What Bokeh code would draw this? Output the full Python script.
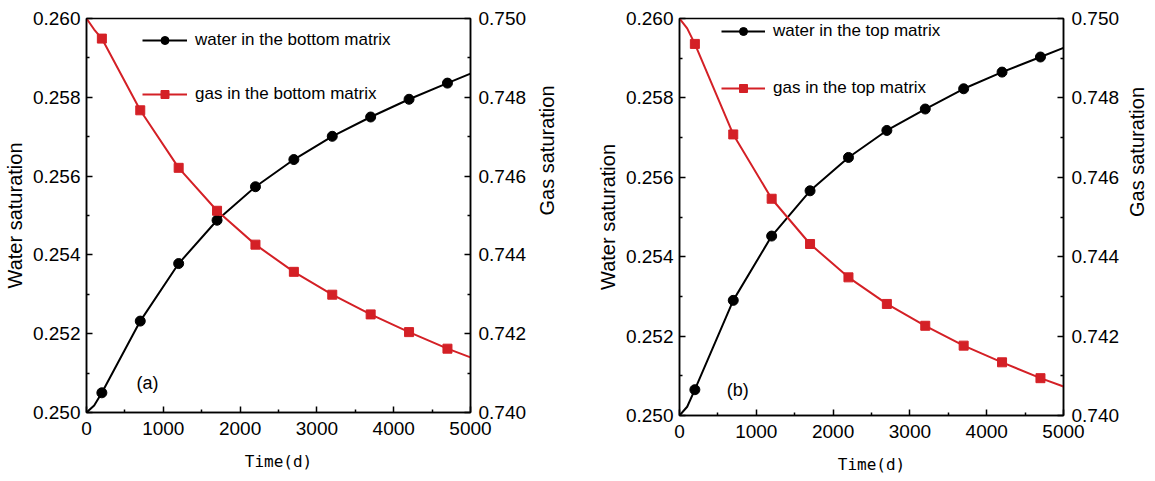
import math
from bokeh.plotting import figure
from bokeh.models import (Range1d, LinearAxis, FixedTicker, NumeralTickFormatter,
                          Legend, LegendItem, Label)
from bokeh.layouts import row
from bokeh.embed import file_html
from bokeh.resources import INLINE

# ---------------- data ----------------
marker_time = [200, 700, 1200, 1700, 2200, 2700, 3200, 3700, 4200, 4700]
line_time = [0, 100, 200, 700, 1200, 1700, 2200, 2700, 3200, 3700, 4200, 4700, 5000]

# panel (a): bottom matrix
water_bottom_markers = [0.25050, 0.25232, 0.25378, 0.25488, 0.25573, 0.25642,
                        0.25701, 0.25750, 0.25795, 0.25836]
water_bottom_line = [0.25000, 0.25018, 0.25050, 0.25232, 0.25378, 0.25488, 0.25573,
                     0.25642, 0.25701, 0.25750, 0.25795, 0.25836, 0.25860]
gas_bottom_markers = [0.74949, 0.74767, 0.74621, 0.74512, 0.74426, 0.74357,
                      0.74299, 0.74249, 0.74204, 0.74162]
gas_bottom_line = [0.75000, 0.74972, 0.74949, 0.74767, 0.74621, 0.74512, 0.74426,
                   0.74357, 0.74299, 0.74249, 0.74204, 0.74162, 0.74140]

# panel (b): top matrix
water_top_markers = [0.25065, 0.25290, 0.25452, 0.25566, 0.25650, 0.25718,
                     0.25772, 0.25823, 0.25865, 0.25903]
water_top_line = [0.25000, 0.25022, 0.25065, 0.25290, 0.25452, 0.25566, 0.25650,
                  0.25718, 0.25772, 0.25823, 0.25865, 0.25903, 0.25926]
gas_top_markers = [0.74936, 0.74708, 0.74546, 0.74432, 0.74348, 0.74281,
                   0.74226, 0.74176, 0.74134, 0.74094]
gas_top_line = [0.75000, 0.74975, 0.74936, 0.74708, 0.74546, 0.74432, 0.74348,
                0.74281, 0.74226, 0.74176, 0.74134, 0.74094, 0.74073]

x_ticks = [0, 1000, 2000, 3000, 4000, 5000]
x_minor = [500, 1500, 2500, 3500, 4500]
water_ticks = [0.250, 0.252, 0.254, 0.256, 0.258, 0.260]
water_minor = [0.251, 0.253, 0.255, 0.257, 0.259]
gas_ticks = [0.740, 0.742, 0.744, 0.746, 0.748, 0.750]
gas_minor = [0.741, 0.743, 0.745, 0.747, 0.749]

RED = "#d42026"
TICK_FONT = "Liberation Sans"


def style_axis(ax, standoff):
    ax.axis_line_width = 1.5
    ax.axis_line_color = "black"
    ax.major_tick_in = 6
    ax.major_tick_out = 0
    ax.minor_tick_in = 3
    ax.minor_tick_out = 0
    ax.major_tick_line_width = 1.5
    ax.minor_tick_line_width = 1.5
    ax.major_tick_line_color = "black"
    ax.minor_tick_line_color = "black"
    ax.major_label_text_font = TICK_FONT
    ax.major_label_text_font_size = "19px"
    ax.major_label_text_color = "black"
    ax.major_label_standoff = standoff
    ax.axis_label_text_font_style = "normal"
    ax.axis_label_text_color = "black"


def make_panel(water_m, water_l, gas_m, gas_l, water_label, gas_label, tag,
               tag_x, tag_y, frame_h, borders, legend_loc, legend_glyph_w,
               legend_spacing, gas_standoff):
    left, right, top, bottom = borders
    p = figure(frame_width=384, frame_height=frame_h,
               x_range=Range1d(0, 5000), y_range=Range1d(0.250, 0.260),
               output_backend="svg", toolbar_location=None,
               min_border_left=left, min_border_right=right,
               min_border_top=top, min_border_bottom=bottom)
    p.extra_y_ranges = {"gas": Range1d(0.740, 0.750)}
    p.xgrid.grid_line_color = None
    p.ygrid.grid_line_color = None
    p.outline_line_color = "black"
    p.outline_line_width = 1.5
    p.background_fill_color = "white"
    p.border_fill_color = "white"

    xa = p.xaxis[0]
    xa.ticker = FixedTicker(ticks=x_ticks, minor_ticks=x_minor)
    xa.axis_label = "Time(d)"
    style_axis(xa, 9)
    xa.axis_label_text_font = "DejaVu Sans Mono"
    xa.axis_label_text_font_size = "16px"
    xa.axis_label_standoff = 14

    ya = p.yaxis[0]
    ya.ticker = FixedTicker(ticks=water_ticks, minor_ticks=water_minor)
    ya.formatter = NumeralTickFormatter(format="0.000")
    ya.axis_label = "Water saturation"
    style_axis(ya, 6)
    ya.axis_label_text_font = "Liberation Sans"
    ya.axis_label_text_font_size = "20px"
    ya.axis_label_standoff = 4

    ra = LinearAxis(y_range_name="gas", axis_label="Gas saturation",
                    ticker=FixedTicker(ticks=gas_ticks, minor_ticks=gas_minor),
                    formatter=NumeralTickFormatter(format="0.000"))
    style_axis(ra, 8)
    ra.axis_label_text_font = "Liberation Sans"
    ra.axis_label_text_font_size = "20px"
    ra.axis_label_standoff = gas_standoff
    ra.axis_label_orientation = math.pi / 2
    p.add_layout(ra, "right")

    wl = p.line(line_time, water_l, line_color="black", line_width=2)
    wm = p.scatter(marker_time, water_m, marker="circle", size=10,
                   fill_color="black", line_color="black")
    gl = p.line(line_time, gas_l, line_color=RED, line_width=2, y_range_name="gas")
    gm = p.scatter(marker_time, gas_m, marker="square", size=9,
                   fill_color=RED, line_color=RED, y_range_name="gas")

    legend = Legend(items=[LegendItem(label=water_label, renderers=[wl, wm]),
                           LegendItem(label=gas_label, renderers=[gl, gm])],
                    location=legend_loc, margin=0, padding=0,
                    glyph_width=legend_glyph_w, glyph_height=20, label_height=20,
                    label_standoff=8, spacing=legend_spacing,
                    border_line_color=None, background_fill_alpha=0,
                    label_text_font="Liberation Sans", label_text_font_size="17px",
                    label_text_color="black")
    p.add_layout(legend, "center")

    p.add_layout(Label(x=tag_x, y=tag_y, text=tag, text_font="Liberation Sans",
                       text_font_size="18px", text_align="center",
                       text_baseline="middle", text_color="black"))
    return p


pa = make_panel(water_bottom_markers, water_bottom_line, gas_bottom_markers, gas_bottom_line,
                "water in the bottom matrix", "gas in the bottom matrix", "(a)",
                794, 0.25074, 394, (81, 118, 18, 53), (56, 308), 45, 34, 18)
pb = make_panel(water_top_markers, water_top_line, gas_top_markers, gas_top_line,
                "water in the top matrix", "gas in the top matrix", "(b)",
                757, 0.25063, 397, (91, 82, 16, 52), (42, 317), 44, 37, 15)

layout = row(pa, pb)
open("out.html", "w").write(file_html(layout, INLINE))
